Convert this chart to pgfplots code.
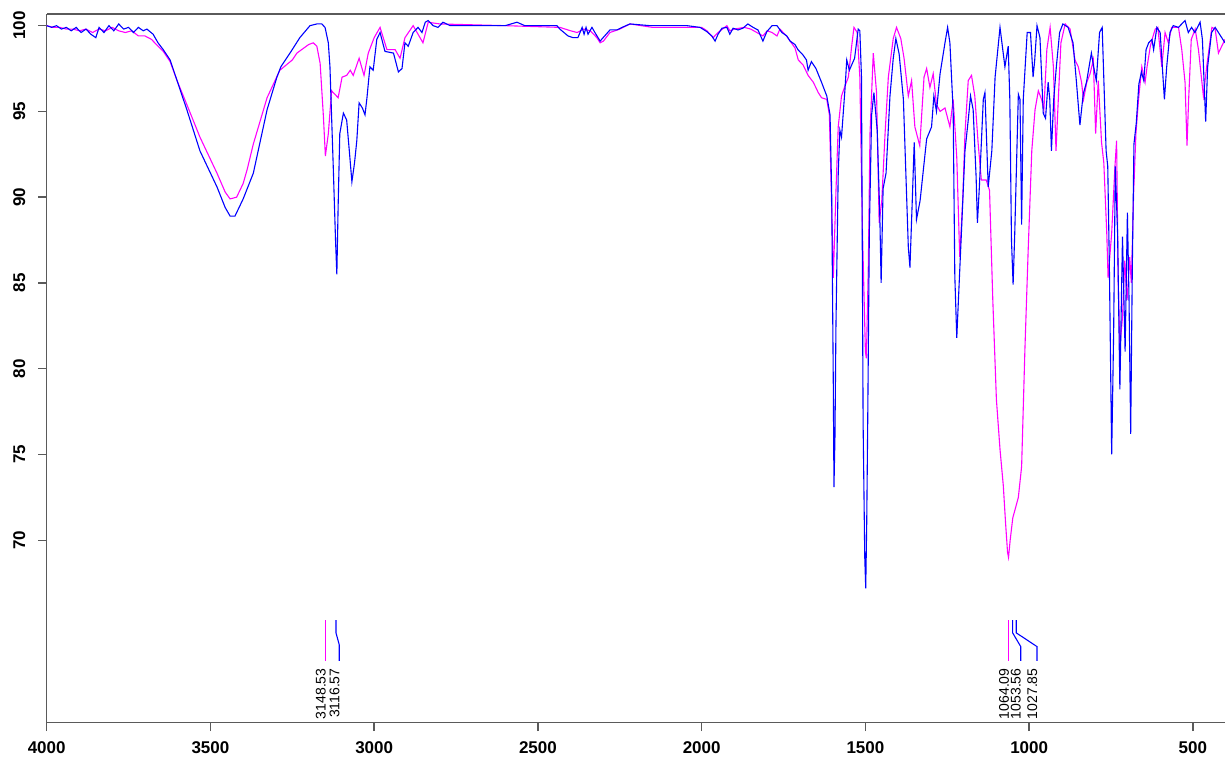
\documentclass[border=0pt]{standalone}
\usepackage{fontspec}
\setmainfont{Liberation Sans}
\usepackage{pgfplots}
\pgfplotsset{compat=1.18}
\definecolor{specblue}{RGB}{0,0,255}
\definecolor{specmag}{RGB}{255,0,255}
\definecolor{axgray}{RGB}{90,90,90}

\begin{document}
\begin{tikzpicture}
\begin{axis}[
  at={(0,0)}, anchor=south west,
  scale only axis, width=589.2pt, height=354.4pt,
  x dir=reverse, xmin=402, xmax=4000, ymin=59.36, ymax=100.68,
  axis x line*=box, axis y line*=left,
  axis line style={-, draw=axgray, line width=0.7pt},
  xtick={500,1000,...,4000}, ytick={70,75,...,100},
  xtick pos=bottom, ytick pos=left,
  tick align=outside, major tick length=4.2pt,
  tick style={axgray, line width=0.7pt},
  /pgf/number format/1000 sep={},
  /pgf/number format/assume math mode=true,
  ticklabel style={font=\fontsize{8.5}{9}\selectfont\bfseries},
  yticklabel style={xshift=-3pt, rotate=90, anchor=south},
  xticklabel style={yshift=-1.5pt},
]
\addplot[specmag, line width=0.55pt] coordinates {
(4000,100.0)(3980,99.9)(3960,99.9)(3940,99.8)(3920,99.8)(3900,99.7)(3880,99.8)(3860,99.6)(3840,99.8)(3820,99.7)(3800,99.9)(3780,99.7)(3760,99.6)(3740,99.7)(3720,99.4)(3700,99.4)(3680,99.2)(3660,98.8)(3644,98.5)(3623,97.9)(3602,96.8)(3572,95.4)(3532,93.5)(3480,91.4)(3455,90.3)(3440,89.9)(3420,90.0)(3400,90.8)(3388,91.6)(3369,93.1)(3327,95.8)(3288,97.4)(3250,98.0)(3236,98.4)(3200,98.9)(3186,99.0)(3175,98.8)(3165,97.8)(3155,94.7)(3149,92.4)(3140,93.7)(3130,96.2)(3120,96.0)(3110,95.8)(3098,97.0)(3084,97.1)(3073,97.4)(3064,97.1)(3046,98.1)(3031,97.1)(3018,98.4)(3000,99.3)(2982,99.9)(2961,98.6)(2936,98.6)(2921,98.1)(2906,99.3)(2881,100.0)(2851,99.0)(2835,100.2)(2800,100.1)(2600,100.0)(2433,99.9)(2400,99.7)(2380,99.6)(2360,99.8)(2340,99.7)(2320,99.3)(2310,99.0)(2300,99.1)(2280,99.6)(2250,99.8)(2219,100.1)(2150,99.9)(2000,99.9)(1984,99.7)(1965,99.3)(1950,99.6)(1923,100.0)(1914,99.7)(1900,99.8)(1870,99.9)(1850,99.8)(1813,99.4)(1800,99.7)(1785,99.6)(1770,99.4)(1761,99.8)(1741,99.4)(1715,98.7)(1705,98.0)(1690,97.7)(1675,97.1)(1659,96.7)(1644,96.1)(1634,95.8)(1618,95.7)(1610,94.8)(1603,89.4)(1598,85.3)(1590,90.3)(1583,94.1)(1573,95.9)(1562,96.5)(1552,97.0)(1542,98.8)(1535,99.9)(1525,99.6)(1517,97.0)(1509,88.0)(1500,81.0)(1497,80.6)(1491,86.1)(1486,93.7)(1476,98.4)(1466,96.1)(1458,88.5)(1450,89.8)(1440,93.7)(1430,97.0)(1415,99.25)(1405,99.9)(1392,99.25)(1382,98.1)(1369,95.9)(1359,96.8)(1349,94.1)(1334,93.0)(1321,97.0)(1313,97.5)(1303,96.4)(1293,97.2)(1283,95.4)(1272,95.0)(1257,95.2)(1242,94.1)(1232,95.7)(1221,92.3)(1212,86.5)(1203,89.8)(1196,93.7)(1186,96.8)(1176,97.1)(1166,95.9)(1156,93.2)(1146,91.0)(1131,91.0)(1121,90.4)(1111,84.0)(1100,78.2)(1089,75.3)(1079,73.2)(1072,71.0)(1066,69.3)(1063,69.0)(1058,70.0)(1050,71.3)(1040,72.0)(1033,72.5)(1023,74.3)(1013,81.1)(1003,86.9)(992,92.7)(982,95.1)(972,96.2)(962,95.7)(955,95.1)(946,98.6)(936,99.9)(926,97.6)(918,92.7)(911,95.7)(903,99.0)(890,100.1)(875,99.8)(860,98.0)(850,97.6)(840,96.7)(834,95.7)(824,96.7)(814,97.2)(804,98.0)(797,93.7)(789,96.8)(779,93.2)(772,92.0)(763,87.9)(759,85.3)(748,87.9)(738,91.8)(733,93.3)(728,85.0)(723,81.3)(715,83.0)(708,86.3)(701,84.0)(693,86.5)(688,85.0)(681,90.2)(674,93.7)(666,95.7)(656,97.6)(646,96.7)(640,97.6)(630,98.8)(623,99.3)(615,99.8)(607,99.9)(595,97.6)(585,99.6)(575,99.0)(565,99.9)(544,99.9)(534,98.6)(524,96.7)(518,93.0)(513,95.7)(505,99.2)(493,99.8)(483,98.6)(468,95.9)(458,97.6)(442,99.9)(432,99.8)(422,98.4)(402,99.2)
};
\addplot[specblue, line width=0.55pt] coordinates {
(4000,100.0)(3985,99.9)(3970,100.0)(3955,99.8)(3940,99.9)(3925,99.7)(3910,99.9)(3895,99.6)(3880,99.8)(3865,99.5)(3850,99.3)(3840,99.9)(3825,99.6)(3810,100.0)(3795,99.7)(3780,100.1)(3765,99.8)(3750,99.9)(3735,99.6)(3720,99.9)(3705,99.7)(3694,99.8)(3675,99.5)(3660,99.0)(3644,98.6)(3623,98.0)(3602,96.8)(3572,95.1)(3532,92.7)(3480,90.6)(3455,89.4)(3440,88.9)(3425,88.9)(3400,89.9)(3369,91.4)(3327,95.1)(3297,97.0)(3285,97.6)(3257,98.4)(3227,99.3)(3196,100.0)(3175,100.1)(3160,100.1)(3150,99.9)(3140,99.0)(3135,97.6)(3125,91.8)(3118,87.5)(3114,85.5)(3110,89.5)(3105,93.7)(3094,94.9)(3084,94.5)(3075,92.5)(3068,90.9)(3060,92.0)(3053,93.3)(3046,95.5)(3036,95.2)(3028,94.8)(3022,95.8)(3013,97.6)(3003,97.4)(2992,99.2)(2982,99.6)(2967,98.5)(2941,98.4)(2926,97.3)(2915,97.5)(2906,99.0)(2896,98.8)(2881,99.6)(2866,99.9)(2854,99.6)(2844,100.2)(2835,100.3)(2820,100.0)(2805,99.9)(2790,100.2)(2768,100.0)(2600,100.0)(2564,100.2)(2540,100.0)(2442,100.0)(2433,99.8)(2408,99.4)(2393,99.3)(2378,99.3)(2365,99.9)(2359,99.5)(2353,99.9)(2347,99.5)(2335,99.9)(2326,99.6)(2310,99.1)(2301,99.3)(2280,99.75)(2259,99.75)(2243,99.9)(2219,100.1)(2158,100.0)(2045,100.0)(2005,99.9)(1984,99.65)(1969,99.4)(1959,99.1)(1950,99.5)(1938,99.85)(1923,99.9)(1914,99.5)(1904,99.85)(1889,99.75)(1874,99.85)(1859,100.1)(1843,99.9)(1828,99.75)(1813,99.1)(1801,99.65)(1785,100.0)(1770,100.0)(1755,99.6)(1740,99.4)(1730,99.1)(1715,98.9)(1706,98.6)(1691,98.3)(1680,98.0)(1675,97.4)(1665,97.9)(1651,97.5)(1634,96.7)(1618,95.9)(1608,94.8)(1603,90.3)(1598,79.0)(1596,73.1)(1593,76.0)(1590,82.4)(1583,91.4)(1578,93.9)(1573,93.5)(1562,96.4)(1557,98.0)(1549,97.4)(1533,98.1)(1522,99.8)(1517,99.7)(1512,97.0)(1507,76.8)(1502,69.0)(1499,67.2)(1496,71.0)(1493,76.8)(1488,88.0)(1481,94.8)(1474,96.1)(1464,93.9)(1456,88.9)(1452,85.0)(1446,90.5)(1437,91.4)(1425,95.9)(1415,98.1)(1407,99.25)(1397,98.35)(1384,95.7)(1369,87.1)(1364,85.9)(1356,90.3)(1351,93.2)(1344,88.7)(1333,89.8)(1313,93.4)(1298,94.1)(1291,95.9)(1283,95.0)(1272,97.2)(1257,99.0)(1249,99.9)(1242,99.0)(1232,95.0)(1227,85.4)(1221,81.8)(1216,84.0)(1206,88.3)(1196,92.7)(1186,94.5)(1179,95.9)(1171,95.1)(1162,91.2)(1158,88.5)(1152,90.6)(1140,95.7)(1135,96.1)(1125,90.6)(1114,92.7)(1104,97.0)(1089,99.9)(1074,97.6)(1064,98.8)(1059,95.7)(1054,87.5)(1049,84.9)(1044,87.9)(1033,96.0)(1028,95.7)(1023,88.4)(1018,95.7)(1006,99.6)(996,99.6)(988,97.0)(983,98.0)(976,100.0)(967,99.3)(957,94.9)(950,94.6)(942,96.7)(937,95.7)(932,92.7)(925,95.7)(917,97.6)(907,99.6)(897,100.1)(881,99.9)(866,99.0)(856,96.8)(845,94.2)(835,96.0)(825,96.7)(810,98.4)(803,97.6)(795,96.8)(785,99.6)(777,99.9)(770,95.7)(765,92.7)(760,91.8)(755,85.9)(748,75.0)(742,82.1)(737,91.8)(730,87.9)(723,78.8)(715,87.7)(707,81.0)(700,89.1)(695,84.0)(690,76.2)(685,85.9)(680,93.1)(673,94.3)(665,96.6)(657,97.3)(650,96.8)(643,98.6)(635,99.0)(625,99.2)(620,98.6)(610,99.9)(600,99.6)(587,95.7)(580,97.6)(570,99.6)(560,100.0)(544,99.9)(534,100.1)(524,100.3)(514,99.6)(504,99.9)(494,99.6)(478,100.2)(471,99.2)(461,94.4)(455,97.6)(443,99.6)(432,99.9)(422,99.6)(402,99.0)
};
% peak marker lines
\addplot[specmag, line width=0.55pt] coordinates {(3148.53,65.35) (3148.53,62.97)};
\addplot[specblue, line width=0.55pt] coordinates {(3116.57,65.35) (3116.57,64.6) (3106.6,63.9) (3106.6,62.97)};
\addplot[specmag, line width=0.55pt] coordinates {(1062,65.35) (1062,62.97)};
\addplot[specblue, line width=0.55pt] coordinates {(1050.4,65.35) (1050.4,64.6) (1025.7,63.8) (1025.7,62.97)};
\addplot[specblue, line width=0.55pt] coordinates {(1039.4,65.35) (1039.4,64.6) (976,63.8) (976,62.97)};
\begin{scope}[every node/.style={rotate=90, anchor=base east, inner sep=0pt, font=\fontsize{7}{7}\selectfont}]
\node at (axis cs:3148.53,62.55) {3148.53};
\node at (axis cs:3106.6,62.55) {3116.57};
\node at (axis cs:1062,62.55) {1064.09};
\node at (axis cs:1025.7,62.55) {1053.56};
\node at (axis cs:976,62.55) {1027.85};
\end{scope}
\end{axis}
\pgfresetboundingbox
\path[use as bounding box] (-23.35pt,-19.15pt) rectangle (589.2pt,361.4pt);
\end{tikzpicture}
\end{document}
